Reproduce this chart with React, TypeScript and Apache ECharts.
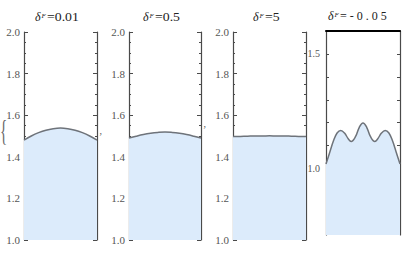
import React, { useEffect, useRef } from "react";
import * as echarts from "echarts";

const xs = [0, 0.1, 0.2, 0.3, 0.4, 0.5, 0.6, 0.7, 0.8, 0.9, 1];
const p1 = [1.48, 1.5, 1.516, 1.528, 1.535, 1.538, 1.535, 1.528, 1.516, 1.5, 1.48];
const p2 = [1.49, 1.499, 1.507, 1.513, 1.517, 1.519, 1.517, 1.513, 1.507, 1.499, 1.49];
const p3 = [1.497, 1.498, 1.499, 1.5, 1.5, 1.501, 1.5, 1.5, 1.499, 1.498, 1.497];
const xs4 = [0, 0.05, 0.1, 0.15, 0.2, 0.25, 0.3, 0.34, 0.4, 0.45, 0.5, 0.55, 0.6, 0.66, 0.7, 0.75, 0.8, 0.85, 0.9, 0.95, 1];
const p4 = [1.02, 1.07, 1.12, 1.155, 1.166, 1.155, 1.13, 1.118, 1.14, 1.18, 1.199, 1.18, 1.14, 1.118, 1.13, 1.155, 1.166, 1.155, 1.12, 1.07, 1.02];
const ticks4 = [0.8, 0.9, 1.0, 1.1, 1.2, 1.3, 1.4, 1.5];
const labels4 = [1.0, 1.5];
const titles = ["=0.01", "=0.5", "=5", "= - 0 . 0 5"];

const AXIS = "#4a4a4a";
const FILL = "#dcebfb";
const LINE = "#6e737a";
const SERIF = "Liberation Serif";

export default function App() {
  const ref = useRef<HTMLDivElement>(null);
  useEffect(() => {
    const chart = echarts.init(ref.current!, null, { renderer: "svg" });
    const grids = [
      { left: 24, top: 32, width: 73, height: 208 },
      { left: 129, top: 32, width: 72, height: 208 },
      { left: 233, top: 32, width: 73, height: 208 },
      { left: 326, top: 31, width: 74, height: 204 },
    ];
    const xAxis: any[] = grids.map((_, i) => ({
      type: "value",
      gridIndex: i,
      min: 0,
      max: 1,
      position: i === 3 ? "top" : "bottom",
      axisLine: { show: i === 3, onZero: false, lineStyle: { color: "#000", width: 2 } },
      axisTick: { show: false },
      axisLabel: { show: false },
      splitLine: { show: false },
    }));
    const yAxis: any[] = [];
    for (let i = 0; i < 3; i++) {
      for (const pos of ["left", "right"]) {
        yAxis.push({
          type: "value",
          gridIndex: i,
          position: pos,
          min: 1,
          max: 2,
          interval: 0.2,
          axisLine: { show: true, lineStyle: { color: AXIS, width: 1.2 } },
          axisTick: { show: true, inside: true, length: 4, lineStyle: { color: AXIS } },
          minorTick: { show: true, splitNumber: 4, length: 2, lineStyle: { color: AXIS } },
          axisLabel: {
            show: pos === "left",
            margin: 4,
            fontFamily: SERIF,
            fontSize: 11,
            color: "#555",
            formatter: (v: number) => v.toFixed(1),
          },
          splitLine: { show: false },
        });
      }
    }
    for (const pos of ["left", "right"]) {
      yAxis.push({
        type: "value",
        gridIndex: 3,
        position: pos,
        min: 0.71,
        max: 1.6,
        axisLine: { show: true, lineStyle: { color: AXIS, width: 1.2 } },
        axisTick: { show: true, inside: true, length: 3, customValues: ticks4, lineStyle: { color: AXIS } },
        axisLabel: {
          show: pos === "left",
          margin: 6,
          fontFamily: SERIF,
          fontSize: 10,
          color: "#555",
          customValues: labels4,
          formatter: (v: number) => v.toFixed(1),
        },
        splitLine: { show: false },
      });
    }
    const mk = (xv: number[], yv: number[], i: number) => ({
      type: "line",
      xAxisIndex: i,
      yAxisIndex: i * 2,
      data: xv.map((x, k) => [x, yv[k]]),
      smooth: 0.4,
      symbol: "none",
      lineStyle: { color: LINE, width: 1.5 },
      areaStyle: { color: FILL, opacity: 1, origin: "start" },
      z: 1,
    });
    const titleX = [35, 143, 253, 328];
    const titleY = [23, 23, 23, 22];
    const graphic: any[] = [];
    const txt = (x: number, y: number, text: string, size: number, italic: boolean, fill: string, scaleX = 1) => ({
      type: "text",
      x,
      y,
      scaleX,
      style: {
        text,
        fontFamily: SERIF,
        fontSize: size,
        fontStyle: italic ? "italic" : "normal",
        fill,
        textVerticalAlign: "bottom",
      },
    });
    titles.forEach((t, i) => {
      graphic.push(txt(titleX[i], titleY[i], "δ", 12, true, "#222"));
      graphic.push(txt(titleX[i] + 6.5, titleY[i] - 4, "F", 7, true, "#222"));
      graphic.push(txt(titleX[i] + 12, titleY[i], t, 12, false, "#222", i === 3 ? 1.0 : 1.15));
    });
    graphic.push(txt(0, 145, "{", 30, false, "#666", 0.5));
    graphic.push(txt(99, 141, "ʼ", 10, false, "#555"));
    graphic.push(txt(203, 134, "ʼ", 10, false, "#555"));
    chart.setOption({
      animation: false,
      grid: grids,
      xAxis,
      yAxis,
      series: [mk(xs, p1, 0), mk(xs, p2, 1), mk(xs, p3, 2), mk(xs4, p4, 3)],
      graphic,
    });
    return () => chart.dispose();
  }, []);
  return <div ref={ref} style={{ width: 410, height: 253, position: "fixed", left: 0, top: 0, background: "#fff" }} />;
}
